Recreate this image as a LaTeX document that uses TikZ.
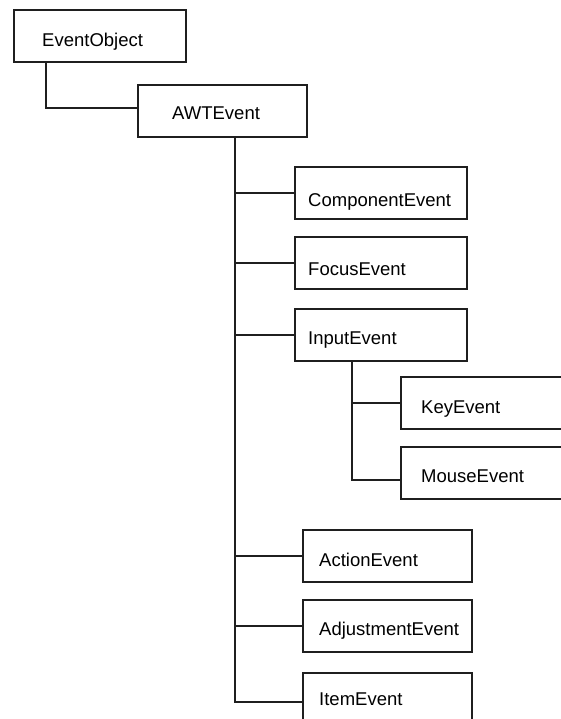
\documentclass[tikz,border=0pt]{standalone}
\usepackage{fontspec}
\setmainfont{Liberation Sans}
\usetikzlibrary{calc}
\tikzset{
  classbox/.style={draw=black!88, line width=2pt, rectangle, inner sep=0pt, anchor=north west},
  classname/.style={font=\fontsize{18.5pt}{18.5pt}\selectfont, anchor=base west, inner sep=0pt, text=black},
  link/.style={draw=black!88, line width=2pt}
}
\begin{document}
\begin{tikzpicture}[x=1pt,y=-1pt]
\useasboundingbox (0,0) rectangle (561,719);
\clip (0,0) rectangle (561,719);
\fill[white] (0,0) rectangle (561,719);

% class boxes (width x height, top-left corner)
\node[classbox, minimum width=172pt, minimum height=52pt] (eo)    at (13,9)    {};
\node[classbox, minimum width=169pt, minimum height=52pt] (awt)   at (137,84)  {};
\node[classbox, minimum width=172pt, minimum height=52pt] (comp)  at (294,166) {};
\node[classbox, minimum width=172pt, minimum height=52pt] (focus) at (294,236) {};
\node[classbox, minimum width=172pt, minimum height=52pt] (input) at (294,308) {};
\node[classbox, minimum width=175pt, minimum height=52pt] (key)   at (400,376) {};
\node[classbox, minimum width=175pt, minimum height=52pt] (mouse) at (400,446) {};
\node[classbox, minimum width=169pt, minimum height=52pt] (act)   at (302,529) {};
\node[classbox, minimum width=169pt, minimum height=52pt] (adj)   at (302,599) {};
\node[classbox, minimum width=169pt, minimum height=58pt] (item)  at (302,672) {};

% class names
\node[classname] (eo-l)    at (42,47)   {EventObject};
\node[classname] (awt-l)   at (172,120) {AWTEvent};
\node[classname] (comp-l)  at (308,207) {ComponentEvent};
\node[classname] (focus-l) at (308,275) {FocusEvent};
\node[classname] (input-l) at (308,344) {InputEvent};
\node[classname] (key-l)   at (421,413) {KeyEvent};
\node[classname] (mouse-l) at (421,482) {MouseEvent};
\node[classname] (act-l)   at (319,566) {ActionEvent};
\node[classname] (adj-l)   at (319,635) {AdjustmentEvent};
\node[classname] (item-l)  at (319,705) {ItemEvent};

% inheritance connectors
\coordinate (eo-t)    at ($(eo.south west)+(33,0)$);
\coordinate (awt-t)   at ($(awt.south west)+(98,0)$);
\coordinate (input-t) at ($(input.south west)+(58,0)$);

\draw[link] (eo-t) |- ($(awt.west)+(0,-3)$);

\draw[link] (awt-t) |- (comp.west);
\draw[link] (awt-t) |- (focus.west);
\draw[link] (awt-t) |- (input.west);
\draw[link] (awt-t) |- (act.west);
\draw[link] (awt-t) |- (adj.west);
\draw[link] (awt-t) |- (item.west);

\draw[link] (input-t) |- (key.west);
\draw[link] (input-t) |- ($(mouse.west)+(0,7)$);
\end{tikzpicture}
\end{document}
